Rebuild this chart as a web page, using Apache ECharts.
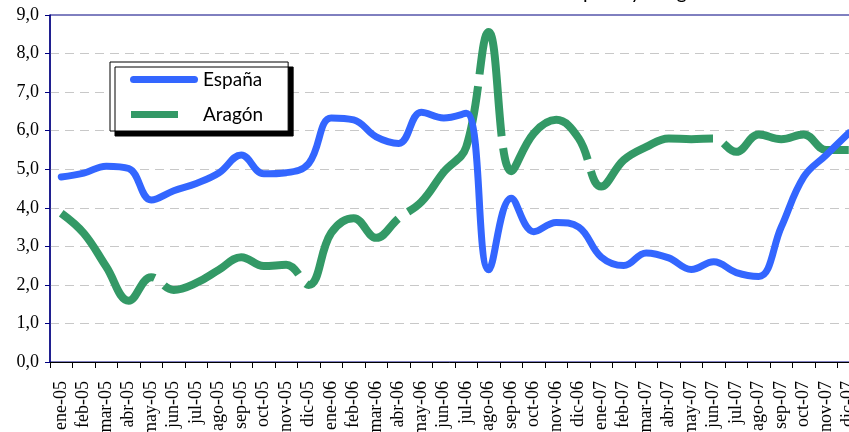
<!DOCTYPE html>
<html>
<head>
<meta charset="utf-8">
<script src="https://cdn.jsdelivr.net/npm/echarts@6/dist/echarts.min.js"></script>
<style>
  html, body { margin: 0; padding: 0; background: #fff; }
  #chart { width: 849px; height: 432px; }
</style>
</head>
<body>
<div id="chart"></div>
<script>
// meses (eje X)
const months = [
  "ene-05", "feb-05", "mar-05", "abr-05", "may-05", "jun-05", "jul-05", "ago-05", "sep-05", "oct-05", "nov-05", "dic-05",
  "ene-06", "feb-06", "mar-06", "abr-06", "may-06", "jun-06", "jul-06", "ago-06", "sep-06", "oct-06", "nov-06", "dic-06",
  "ene-07", "feb-07", "mar-07", "abr-07", "may-07", "jun-07", "jul-07", "ago-07", "sep-07", "oct-07", "nov-07", "dic-07"
];

// valores
const espana = [
  4.8, 4.9, 5.08, 5.02, 4.2, 4.44, 4.63, 4.9, 5.37, 4.88, 4.91, 5.15,
  6.33, 6.28, 5.84, 5.67, 6.48, 6.33, 6.45, 2.39, 4.25, 3.38, 3.62, 3.5,
  2.72, 2.5, 2.83, 2.7, 2.4, 2.6, 2.32, 2.22, 3.5, 4.8, 5.37, 5.94
];
const aragon = [
  3.86, 3.34, 2.47, 1.59, 2.2, 1.87, 2.05, 2.39, 2.72, 2.49, 2.52, 2.0,
  3.35, 3.73, 3.22, 3.73, 4.15, 4.93, 5.58, 8.56, 4.95, 5.93, 6.28, 5.8,
  4.55, 5.24, 5.58, 5.8, 5.78, 5.8, 5.45, 5.9, 5.78, 5.9, 5.5, 5.5
];

const serif = "Liberation Serif";
const chart = echarts.init(document.getElementById("chart"));

chart.setOption({
  animation: false,
  // el título queda cortado arriba, solo asoman los trazos inferiores
  title: {
    text: "España y Aragón",
    left: 558,
    top: -22,
    textStyle: { fontFamily: "Lato", fontSize: 20, fontWeight: "normal", color: "#000" }
  },
  legend: {
    orient: "vertical",
    left: 110,
    top: 62,
    padding: [8, 25, 7, 20],
    itemGap: 16,
    itemWidth: 68,
    itemHeight: 7,
    backgroundColor: "#fff",
    borderColor: "#000",
    borderWidth: 1,
    shadowColor: "#000",
    shadowBlur: 0,
    shadowOffsetX: 5,
    shadowOffsetY: 5,
    textStyle: { fontFamily: "Lato", fontSize: 19, color: "#000" },
    data: [
      { name: "España", icon: "path://M3.5,0 H64.5 A3.5,3.5 0 0 1 64.5,7 H3.5 A3.5,3.5 0 0 1 3.5,0 Z" },
      // trazo más corto, alineado a la izquierda
      { name: "Aragón", icon: "path://M1,0 H48 V7 H1 Z M68,0 L68,7 M0,0 L0,7" }
    ]
  },
  grid: {
    left: 50,
    top: 15,
    right: -11,
    bottom: 70,
    outerBoundsMode: "none",
    show: true,
    borderColor: "#000080",
    borderWidth: 1
  },
  xAxis: {
    type: "category",
    data: months,
    boundaryGap: true,
    axisLine: { lineStyle: { color: "#000", width: 1 } },
    axisTick: { show: true, length: 6, lineStyle: { color: "#000" } },
    axisLabel: {
      interval: 0,
      rotate: 90,
      margin: 19,
      fontFamily: serif,
      fontSize: 18,
      color: "#000"
    },
    splitLine: { show: false }
  },
  yAxis: {
    type: "value",
    min: 0,
    max: 9,
    interval: 1,
    axisLine: { show: true, lineStyle: { color: "#000080", width: 1.5 } },
    axisTick: { show: true, length: 5, lineStyle: { color: "#000080" } },
    axisLabel: {
      margin: 11,
      fontFamily: serif,
      fontSize: 18,
      color: "#000",
      formatter: (v) => v.toFixed(1).replace(".", ",")
    },
    splitLine: {
      show: true,
      showMinLine: false,
      showMaxLine: false,
      lineStyle: { color: "#c8c8c8", type: [9, 6], width: 1 }
    }
  },
  series: [
    {
      name: "España",
      type: "line",
      data: espana,
      smooth: 0.4,
      symbol: "none",
      lineStyle: { color: "#3366ff", width: 7, cap: "round" },
      itemStyle: { color: "#3366ff" },
      z: 3
    },
    {
      name: "Aragón",
      type: "line",
      data: aragon,
      smooth: 0.4,
      symbol: "none",
      lineStyle: { color: "#339966", width: 8, type: [150, 12] },
      itemStyle: { color: "#339966" },
      z: 2
    }
  ]
});
</script>
</body>
</html>
